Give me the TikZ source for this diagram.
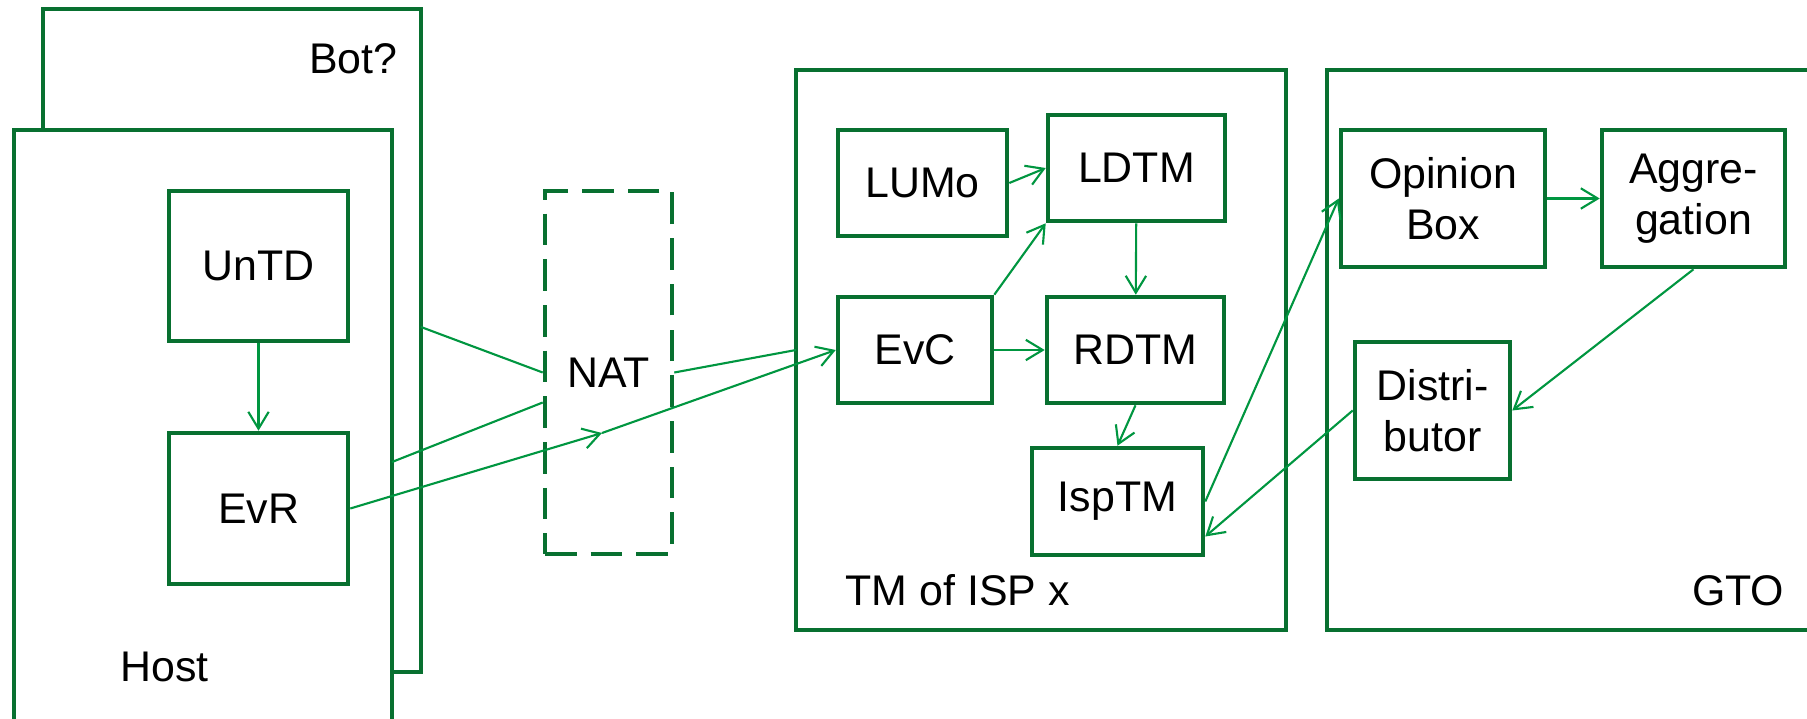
\documentclass[tikz,border=0pt]{standalone}
\usepackage{fontspec}
\setmainfont{Liberation Sans}
\usetikzlibrary{arrows.meta}

\definecolor{boxgreen}{RGB}{8,112,48}
\definecolor{arrowgreen}{RGB}{0,150,64}

\tikzset{
  frame/.style={draw=boxgreen, line width=1.3pt, fill=white},
  module/.style={draw=boxgreen, line width=1.3pt, fill=white, inner sep=0pt,
    align=center, font=\fontsize{12.2}{14.6}\selectfont},
  label/.style={inner sep=0pt, font=\fontsize{12.2}{14.6}\selectfont},
  link/.style={draw=arrowgreen, line width=0.6pt},
  flow/.style={link, -{Straight Barb[length=4.8pt,width=5.8pt,line width=0.6pt]}}
}

\begin{document}
\begin{tikzpicture}
  \clip (0,0) rectangle (18.07,7.18);
  % host and the bot behind it
  \draw[frame] (0.43,0.46) rectangle (4.21,7.09);
  \coordinate (botout) at (4.21,3.91);
  \draw[frame] (0.14,-0.25) rectangle (3.92,5.88);
  \coordinate (hostout) at (3.92,2.56);
  \node[label, anchor=base east] (botlbl) at (3.98,6.45) {Bot?};
  \node[label, anchor=base west] (hostlbl) at (1.20,0.37) {Host};
  \node[module, minimum width=1.79cm, minimum height=1.50cm] (UnTD) at (2.585,4.52) {UnTD};
  \node[module, minimum width=1.79cm, minimum height=1.51cm] (EvR) at (2.585,2.095) {EvR};
  % the NAT
  \node[module, dashed, dash pattern=on 9pt off 4pt, fill=none,
    minimum width=1.27cm, minimum height=3.63cm] (NAT) at (6.085,3.455) {NAT};
  \coordinate (natin) at (6.02,2.85);
  % traffic monitor of the ISP
  \draw[frame] (7.96,0.88) rectangle (12.86,6.48);
  \coordinate (tmin) at (7.96,3.68);
  \node[label, anchor=base west] (tmlbl) at (8.45,1.13) {TM of ISP x};
  \node[module, minimum width=1.69cm, minimum height=1.06cm] (LUMo) at (9.225,5.35) {LUMo};
  \node[module, minimum width=1.77cm, minimum height=1.06cm] (LDTM) at (11.365,5.50) {LDTM};
  \node[module, minimum width=1.54cm, minimum height=1.06cm] (EvC) at (9.15,3.68) {EvC};
  \node[module, minimum width=1.77cm, minimum height=1.06cm] (RDTM) at (11.355,3.68) {RDTM};
  \node[module, minimum width=1.71cm, minimum height=1.07cm] (IspTM) at (11.175,2.165) {IspTM};
  % global trust operator
  \draw[frame] (13.27,0.88) rectangle (18.40,6.48);
  \node[label, anchor=base east] (gtolbl) at (17.85,1.13) {GTO};
  \node[module, minimum width=2.04cm, minimum height=1.37cm] (OpBox) at (14.43,5.195) {Opinion\\Box};
  \node[module, minimum width=1.83cm, minimum height=1.37cm] (Aggr) at (16.935,5.195) {Aggre-\\gation};
  \node[module, minimum width=1.55cm, minimum height=1.37cm] (Distr) at (14.325,3.075) {Distri-\\butor};
  % connections
  \draw[flow] (UnTD) -- (EvR);
  \draw[link] (botout) -- (NAT.west);
  \draw[link] (hostout) -- ([yshift=-0.3cm]NAT.west);
  \draw[link] (NAT.east) -- (tmin);
  \draw[flow] (EvR.east) -- (natin);
  \draw[flow] (natin) -- (EvC.west);
  \draw[flow] (LUMo.east) -- (LDTM.west);
  \draw[flow] (EvC.north east) -- (LDTM.south west);
  \draw[flow] (EvC) -- (RDTM);
  \draw[flow] (LDTM) -- (RDTM);
  \draw[flow] (RDTM.south) -- (IspTM.north);
  \draw[flow] (IspTM.east) -- (OpBox.west);
  \draw[flow] (OpBox) -- (Aggr);
  \draw[flow] (Aggr.south) -- (Distr.east);
  \draw[flow] (Distr.west) -- ([yshift=-0.35cm]IspTM.east);
\end{tikzpicture}
\end{document}
